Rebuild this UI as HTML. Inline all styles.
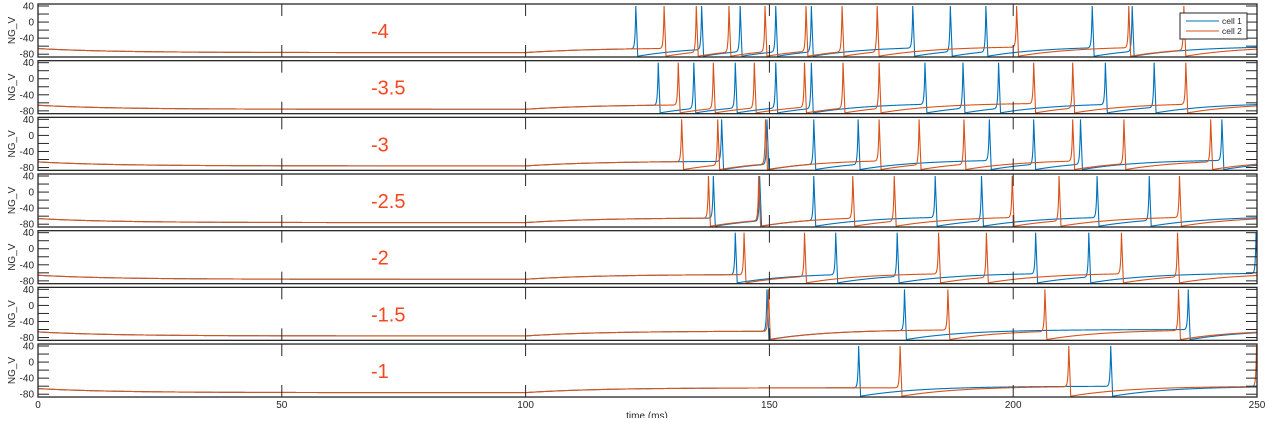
<!DOCTYPE html>
<html><head><meta charset="utf-8"><style>
body{margin:0;background:#fff;width:1269px;height:418px;overflow:hidden;font-family:"Liberation Sans",sans-serif}
svg text{font-family:"Liberation Sans",sans-serif}
</style></head><body>
<svg id="chart" width="1269" height="418" xmlns="http://www.w3.org/2000/svg"></svg>
<script>
const conditions = ["-4","-3.5","-3","-2.5","-2","-1.5","-1"];
const cell1Spikes = [
 [122.6,136.1,144.0,151.3,158.6,179.4,187.1,194.4,216.2,224.4],
 [127.2,134.5,143.0,151.3,158.6,181.9,189.7,197.0,218.9,228.9],
 [140.2,149.5,159.1,168.2,195.1,204.2,213.8,242.8],
 [138.5,148.0,159.1,184.0,193.5,217.2,227.9],
 [143.0,163.6,176.2,204.6,215.5,249.8],
 [149.5,177.7,235.9],
 [168.3,220.0]
];
const cell2Spikes = [
 [128.4,135.0,141.7,149.1,157.5,164.9,172.1,200.7,223.7,235.0],
 [131.3,138.5,146.9,157.2,165.1,172.5,204.2,212.2,235.4],
 [132.0,139.4,149.2,172.5,180.7,189.9,212.2,222.7,240.5],
 [137.5,147.8,167.1,175.6,199.8,209.4,234.1],
 [144.8,157.2,184.7,194.5,222.2,233.7],
 [149.8,186.6,206.5,233.9],
 [176.8,211.4,249.9]
];
const xTicks = [0,50,100,150,200,250];
const yTicks = [40,20,0,-20,-40,-60,-80];
const yLabels = [40,0,-40,-80];

const NS="http://www.w3.org/2000/svg";
const svg=document.getElementById('chart');
const X0=38,X1=1257,YMIN=-87,YMAX=45,PH=53,PITCH=56.67,TOP0=4;
const sx=t=>X0+(t/250)*(X1-X0);
function mk(tag,attrs,parent){const e=document.createElementNS(NS,tag);for(const k in attrs)e.setAttribute(k,attrs[k]);(parent||svg).appendChild(e);return e;}

function volt(t,sp){
  let prev=null,next=null;
  for(const s of sp){ if(s<=t) prev=s; else {next=s;break;} }
  let v;
  if(prev===null){
    if(t<100) v=-66-10*(1-Math.exp(-t/15));
    else v=-76+12*(1-Math.exp(-(t-100)/15));
  } else {
    const d=t-prev;
    if(d<0.4) return 40-d/0.4*125;
    v=-85+25*(1-Math.exp(-(d-0.4)/12));
  }
  if(next!==null){
    const u=Math.exp(-(next-t)/0.15);
    v=v+(40-v)*u;
  }
  return v;
}

for(let p=0;p<conditions.length;p++){
  const top=TOP0+p*PITCH, bot=top+PH;
  const sy=v=>top+(YMAX-v)/(YMAX-YMIN)*PH;
  const g=mk('g',{});
  
  
  const cid='clip'+p;
  const cp=mk('clipPath',{id:cid},g);
  mk('rect',{x:X0,y:top,width:X1-X0,height:PH},cp);
  [[cell1Spikes[p],'#0072BD','cell1'],[cell2Spikes[p],'#D95319','cell2']].forEach(([sp,col,nm])=>{
    let d='';
    for(let i=0;i<=5000;i++){const t=i*0.05;d+=(i?'L':'M')+sx(t).toFixed(2)+' '+sy(volt(t,sp)).toFixed(2);}
    const path=mk('path',{d:d,fill:'none',stroke:col,'stroke-width':1.1,'clip-path':'url(#'+cid+')'},g);
    
    
  });
  yTicks.forEach(v=>{
    mk('line',{x1:X0,x2:X0+11,y1:sy(v),y2:sy(v),stroke:'#262626','stroke-width':1},g);
    mk('line',{x1:X1-11,x2:X1,y1:sy(v),y2:sy(v),stroke:'#262626','stroke-width':1},g);
  });
  yLabels.forEach(v=>{
    const tx=mk('text',{x:34,y:sy(v)+3.5,'font-size':10,'text-anchor':'end',fill:'#262626'},g);
    tx.textContent=v;
    
    
  });
  xTicks.forEach(t=>{
    mk('line',{x1:sx(t),x2:sx(t),y1:top,y2:top+12,stroke:'#262626','stroke-width':1},g);
    mk('line',{x1:sx(t),x2:sx(t),y1:bot-12,y2:bot,stroke:'#262626','stroke-width':1},g);
  });
  const box=mk('rect',{x:X0,y:top,width:X1-X0,height:PH,fill:'none',stroke:'#262626','stroke-width':1.3},g);
  
  
  const yl=mk('text',{x:0,y:0,'font-size':10,'text-anchor':'middle',fill:'#262626',transform:'translate(15,'+(top+PH/2)+') rotate(-90)'},g);
  yl.textContent='NG_V';
  
  
  const lab=mk('text',{x:371,y:top+34,'font-size':20,fill:'#F5461E'},g);
  lab.textContent=conditions[p];
  
  
}
const lastBot=TOP0+6*PITCH+PH;
xTicks.forEach(t=>{
  const tx=mk('text',{x:sx(t),y:lastBot+11,'font-size':10,'text-anchor':'middle',fill:'#262626'});
  tx.textContent=t;
  
  
});
const xt=mk('text',{x:647,y:lastBot+22,'font-size':10,'text-anchor':'middle',fill:'#262626'});
xt.textContent='time (ms)';


const lg=mk('g',{});


mk('rect',{x:1180,y:13,width:67,height:26,fill:'#fff',stroke:'#262626','stroke-width':1},lg);
[['cell 1','#0072BD',21],['cell 2','#D95319',31]].forEach(([n,c,y])=>{
  const e=mk('g',{},lg);
  
  
  mk('line',{x1:1186,x2:1219,y1:y,y2:y,stroke:c,'stroke-width':1.1},e);
  const t=mk('text',{x:1222,y:y+3,'font-size':8.5,fill:'#262626'},e);
  t.textContent=n;
});
</script>
</body></html>
